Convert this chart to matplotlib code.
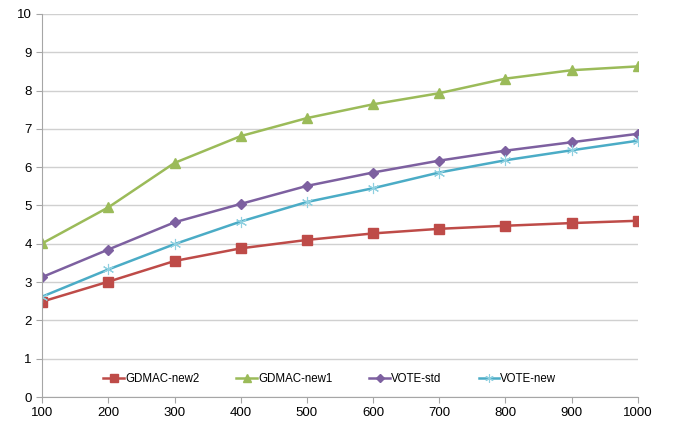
import matplotlib
matplotlib.use("Agg")
import matplotlib.pyplot as plt

# x values (problem size)
x = [100, 200, 300, 400, 500, 600, 700, 800, 900, 1000]

# series
gdmac_new2 = [2.49, 3.01, 3.55, 3.88, 4.10, 4.27, 4.39, 4.47, 4.54, 4.60]
gdmac_new1 = [4.01, 4.95, 6.11, 6.81, 7.28, 7.64, 7.93, 8.31, 8.53, 8.63]
vote_std = [3.13, 3.85, 4.56, 5.04, 5.51, 5.86, 6.17, 6.43, 6.65, 6.87]
vote_new = [2.62, 3.33, 3.99, 4.58, 5.09, 5.45, 5.86, 6.18, 6.44, 6.69]

y_ticks = list(range(0, 11))

plt.rcParams['font.family'] = ['Liberation Sans', 'DejaVu Sans']

fig = plt.figure(figsize=(6.8, 4.21), dpi=100)
ax = fig.add_axes([0.062, 0.057, 0.876, 0.91])

ax.plot(x, gdmac_new2, color='#BE4B48', marker='s', markersize=7, linewidth=1.8, label='GDMAC-new2')
ax.plot(x, gdmac_new1, color='#9BBB59', marker='^', markersize=7, linewidth=1.8, label='GDMAC-new1')
ax.plot(x, vote_std, color='#7D60A0', marker='D', markersize=5, linewidth=1.8, label='VOTE-std')
ax.plot(x, vote_new, color='#4BACC6', marker=(6, 2, 0), markersize=8, markeredgewidth=0.8,
        markeredgecolor='#8FD0E0', linewidth=1.8, label='VOTE-new')

ax.set_xlim(100, 1000)
ax.set_ylim(0, 10)
ax.set_xticks(x)
ax.set_yticks(y_ticks)
ax.grid(axis='y', color='#D0D0D0', linewidth=1)
ax.set_axisbelow(True)

for s in ['top', 'right']:
    ax.spines[s].set_visible(False)
for s in ['left', 'bottom']:
    ax.spines[s].set_color('#A6A6A6')
ax.tick_params(axis='both', colors='#A6A6A6', labelcolor='black', labelsize=9.5, length=4)

ax.legend(loc='center', bbox_to_anchor=(0.483, 0.047), ncol=4, frameon=False,
          fontsize=8.3, handlelength=1.8, columnspacing=3.2, handletextpad=0.1,
          markerscale=0.75)

fig.savefig('out.png', dpi=100)
